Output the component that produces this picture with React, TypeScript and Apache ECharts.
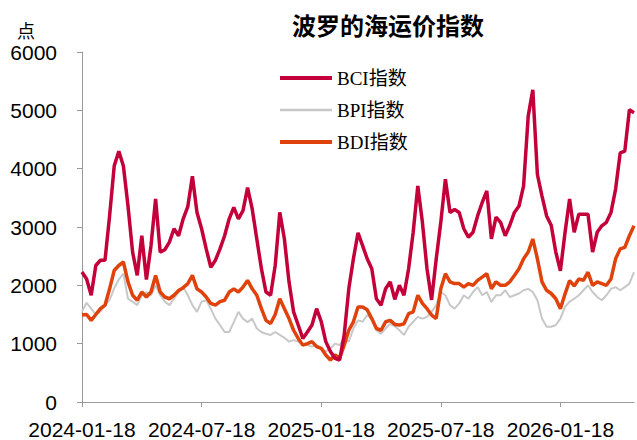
import React, { useEffect, useRef } from "react";
import * as echarts from "echarts";

const tickLabels = ["2024-01-18", "2024-07-18", "2025-01-18", "2025-07-18", "2026-01-18"];
const weeksPerTick = 26;

const bci = [
  2230, 2110, 1830, 2340, 2430, 2430, 3190, 4045, 4300, 4045,
  3360, 2570, 2170, 2850, 2100, 2680, 3480, 2570, 2610, 2740,
  2970, 2850, 3140, 3350, 3870, 3250, 2970, 2625, 2310, 2430,
  2625, 2850, 3140, 3335, 3140, 3280, 3675, 3310, 2795, 2285,
  1885, 1830, 2340, 3250, 2795, 2060, 1545, 1320, 1090, 1200,
  1320, 1600, 1380, 1035, 865, 750, 720, 1150, 1940, 2455,
  2900, 2680, 2455, 2285, 1770, 1660, 1940, 2060, 1760, 2000,
  1830, 2285, 2910, 3705, 3080, 2285, 1750, 2450, 3080, 3820,
  3250, 3300, 3250, 2970, 2825, 2910, 3190, 3420, 3620, 2795,
  3170, 3080, 2850, 3030, 3250, 3360, 3705, 4900, 5350, 3900,
  3530, 3190, 3030, 2570, 2250, 2900, 3480, 2910, 3220, 3220,
  3220, 2570, 2910, 3020, 3080, 3250, 3650, 4270, 4300, 5010,
  4960,
];

const bpi = [
  1550, 1700, 1600, 1500, 1550, 1650, 1750, 1950, 2100, 2200,
  1770, 1720, 1660, 1830, 1885, 1830, 2000, 1830, 1720, 1660,
  1770, 1885, 1970, 1830, 1660, 1545, 1720, 1745, 1600, 1430,
  1320, 1200, 1200, 1370, 1545, 1430, 1370, 1430, 1260, 1200,
  1170, 1150, 1200, 1150, 1100, 1035, 1060, 1035, 1000, 975,
  950, 975, 920, 865, 920, 1000, 975, 1090, 1035, 1260,
  1400, 1375, 1490, 1430, 1230, 1170, 1260, 1340, 1300, 1230,
  1150, 1290, 1375, 1460, 1430, 1460, 1545, 1660, 1885, 1830,
  1660, 1600, 1690, 1830, 1770, 1885, 1970, 1830, 1885, 1715,
  1830, 1830, 1915, 1800, 1830, 1860, 1915, 1940, 1885, 1745,
  1430, 1290, 1290, 1320, 1430, 1630, 1720, 1770, 1830, 1915,
  2000, 1885, 1800, 1745, 1830, 1940, 1970, 1915, 1970, 2030,
  2225,
];

const bdi = [
  1490, 1500, 1400, 1500, 1600, 1660, 1940, 2255, 2340, 2400,
  2060, 1830, 1745, 1885, 1800, 1885, 2170, 1885, 1800, 1770,
  1830, 1910, 1960, 2030, 2170, 1940, 1885, 1800, 1690, 1660,
  1720, 1745, 1885, 1940, 1885, 1970, 2085, 1940, 1830, 1600,
  1400, 1345, 1500, 1770, 1600, 1430, 1230, 1090, 975, 1000,
  1035, 950, 920, 805, 720, 805, 750, 975, 1230, 1375,
  1630, 1630, 1580, 1430, 1260, 1230, 1375, 1400, 1330, 1320,
  1340, 1515, 1545, 1830, 1690, 1600, 1490, 1430, 1940, 2200,
  2060, 2030, 2030, 1970, 2030, 2000, 2085, 2140, 2200, 1940,
  2060, 2000, 2000, 2060, 2170, 2285, 2455, 2570, 2795, 2455,
  2060, 1915, 1860, 1770, 1600, 1850, 2080, 1990, 2110, 2085,
  2225, 2000, 2060, 2030, 2000, 2110, 2455, 2625, 2650, 2850,
  3020,
];

function weeklyDates(start: string, n: number): string[] {
  const out: string[] = [];
  const t0 = Date.parse(start + "T00:00:00Z");
  for (let i = 0; i < n; i++) {
    out.push(new Date(t0 + i * 7 * 86400000).toISOString().slice(0, 10));
  }
  return out;
}

const categories = weeklyDates(tickLabels[0], bci.length);

export default function App() {
  const ref = useRef<HTMLDivElement>(null);
  useEffect(() => {
    if (!ref.current) return;
    const chart = echarts.init(ref.current, undefined, { renderer: "svg" });
    const sans = "'Liberation Sans', Arial, sans-serif";
    chart.setOption({
      animation: false,
      backgroundColor: "#ffffff",
      title: {
        text: "波罗的海运价指数",
        left: 287,
        top: 7,
        textStyle: {
          fontSize: 24,
          fontWeight: "bold",
          color: "#000",
          fontFamily: "'Noto Sans CJK SC', sans-serif",
        },
      },
      graphic: [
        {
          type: "text",
          left: 17,
          top: 21,
          style: {
            text: "点",
            fontSize: 18,
            fill: "#000",
            fontFamily: "'Noto Sans CJK SC', sans-serif",
          },
        },
      ],
      legend: {
        orient: "vertical",
        left: 273,
        top: 63,
        itemWidth: 52,
        itemHeight: 14,
        itemGap: 12,
        itemStyle: { opacity: 0 },
        data: [
          { name: "BCI指数", lineStyle: { width: 4 } },
          { name: "BPI指数", lineStyle: { width: 2.5 } },
          { name: "BDI指数", lineStyle: { width: 4 } },
        ],
        textStyle: {
          fontSize: 19,
          lineHeight: 20,
          color: "#000",
          fontFamily: "'Liberation Serif', 'Times New Roman', 'Noto Sans CJK SC', serif",
        },
      },
      grid: { left: 82, right: 3, top: 52, bottom: 36, containLabel: false },
      xAxis: {
        type: "category",
        data: categories,
        boundaryGap: false,
        axisLine: { lineStyle: { color: "#999", width: 1 } },
        axisTick: {
          interval: (i: number) => i % weeksPerTick === 0,
          length: 5,
          lineStyle: { color: "#999" },
        },
        axisLabel: {
          interval: (i: number) => i % weeksPerTick === 0,
          formatter: (_v: string, i: number) => tickLabels[i / weeksPerTick] ?? "",
          fontSize: 21,
          color: "#000",
          margin: 17,
          fontFamily: sans,
        },
        splitLine: { show: false },
      },
      yAxis: {
        type: "value",
        min: 0,
        max: 6000,
        interval: 1000,
        axisLine: { show: true, lineStyle: { color: "#999", width: 1 } },
        axisTick: { show: true, length: 5, lineStyle: { color: "#999" } },
        axisLabel: {
          fontSize: 21,
          color: "#000",
          margin: 25,
          fontFamily: sans,
          formatter: (v: number) => String(v),
        },
        splitLine: { show: false },
      },
      series: [
        {
          name: "BPI指数",
          type: "line",
          data: bpi,
          symbol: "none",
          z: 2,
          lineStyle: { color: "#c8c8c8", width: 2 },
          itemStyle: { color: "#c8c8c8" },
        },
        {
          name: "BDI指数",
          type: "line",
          data: bdi,
          symbol: "none",
          z: 3,
          lineStyle: { color: "#e0420c", width: 3.5 },
          itemStyle: { color: "#e0420c" },
        },
        {
          name: "BCI指数",
          type: "line",
          data: bci,
          symbol: "none",
          z: 4,
          lineStyle: { color: "#c4003a", width: 3.5 },
          itemStyle: { color: "#c4003a" },
        },
      ],
    });
    return () => chart.dispose();
  }, []);
  return (
    <div
      ref={ref}
      style={{ position: "absolute", left: 0, top: 0, width: 637, height: 440 }}
    />
  );
}
